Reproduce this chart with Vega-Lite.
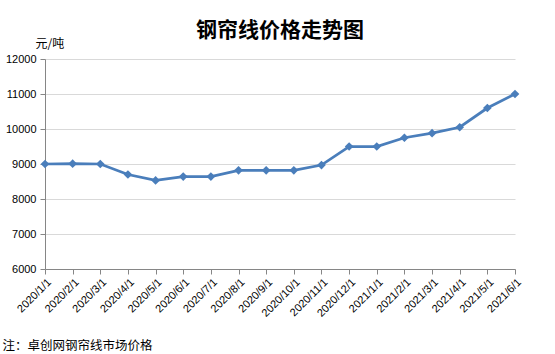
{
  "$schema": "https://vega.github.io/schema/vega-lite/v6.json",
  "autosize": "none",
  "width": 470,
  "height": 210,
  "padding": {"left": 45, "top": 59, "right": 40, "bottom": 85},
  "background": "white",
  "title": {
    "text": "钢帘线价格走势图",
    "font": "Noto Sans CJK SC",
    "fontSize": 21,
    "fontWeight": "bold",
    "color": "#000000",
    "anchor": "middle",
    "offset": 0,
    "dy": 4
  },
  "data": {
    "values": [
      {"date": "2020/1/1", "price": 9000},
      {"date": "2020/2/1", "price": 9010},
      {"date": "2020/3/1", "price": 9000},
      {"date": "2020/4/1", "price": 8700},
      {"date": "2020/5/1", "price": 8530},
      {"date": "2020/6/1", "price": 8640},
      {"date": "2020/7/1", "price": 8640},
      {"date": "2020/8/1", "price": 8820},
      {"date": "2020/9/1", "price": 8820},
      {"date": "2020/10/1", "price": 8820},
      {"date": "2020/11/1", "price": 8970},
      {"date": "2020/12/1", "price": 9500},
      {"date": "2021/1/1", "price": 9500},
      {"date": "2021/2/1", "price": 9750},
      {"date": "2021/3/1", "price": 9880},
      {"date": "2021/4/1", "price": 10050},
      {"date": "2021/5/1", "price": 10600},
      {"date": "2021/6/1", "price": 11000}
    ]
  },
  "mark": {
    "type": "line",
    "color": "#4a7ebb",
    "strokeWidth": 2.75,
    "point": {"shape": "diamond", "size": 75, "filled": true, "color": "#4a7ebb"}
  },
  "encoding": {
    "x": {
      "field": "date",
      "type": "ordinal",
      "sort": null,
      "scale": {"type": "point", "padding": 0},
      "axis": {
        "title": "注：卓创网钢帘线市场价格",
        "titleFont": "Noto Sans CJK SC",
        "titleFontSize": 12.5,
        "titleFontWeight": "normal",
        "titleColor": "#000000",
        "titleAnchor": "start",
        "titleAlign": "left",
        "titleBaseline": "middle",
        "titleX": -43,
        "titleY": 76,
        "labelAngle": -45,
        "labelFont": "Liberation Sans",
        "labelFontSize": 11,
        "labelColor": "#000000",
        "labelPadding": 2,
        "domainColor": "#868686",
        "tickColor": "#868686",
        "tickSize": 5,
        "grid": false
      }
    },
    "y": {
      "field": "price",
      "type": "quantitative",
      "scale": {"domain": [6000, 12000], "nice": false, "zero": false},
      "axis": {
        "values": [6000, 7000, 8000, 9000, 10000, 11000, 12000],
        "format": "d",
        "title": "元/吨",
        "titleAngle": 0,
        "titleFont": "Noto Sans CJK SC",
        "titleFontSize": 12,
        "titleFontWeight": "normal",
        "titleColor": "#000000",
        "titleAlign": "left",
        "titleBaseline": "middle",
        "titleX": -10,
        "titleY": -16,
        "labelFont": "Liberation Sans",
        "labelFontSize": 11,
        "labelColor": "#000000",
        "labelPadding": 4,
        "domainColor": "#868686",
        "tickColor": "#868686",
        "tickSize": 5,
        "gridColor": "#d9d9d9",
        "gridWidth": 1
      }
    }
  },
  "config": {
    "view": {"stroke": null}
  }
}
